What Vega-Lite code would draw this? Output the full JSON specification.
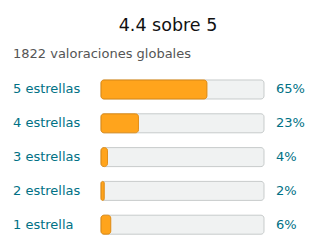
{
  "$schema": "https://vega.github.io/schema/vega-lite/v6.json",
  "width": 320,
  "height": 182,
  "padding": {"top": 70, "left": 0, "right": 0, "bottom": 0},
  "autosize": {"type": "none"},
  "background": "white",
  "config": {"view": {"stroke": null}, "font": "DejaVu Sans"},
  "title": {
    "text": "4.4 sobre 5",
    "anchor": "middle",
    "frame": "group",
    "fontSize": 17.5,
    "fontWeight": "normal",
    "color": "#111111",
    "font": "DejaVu Sans",
    "baseline": "alphabetic",
    "offset": -1,
    "dx": 8
  },
  "data": {
    "values": [
      {"stars": 5, "label": "5 estrellas", "pct": 65, "pct_text": "65%"},
      {"stars": 4, "label": "4 estrellas", "pct": 23, "pct_text": "23%"},
      {"stars": 3, "label": "3 estrellas", "pct": 4, "pct_text": "4%"},
      {"stars": 2, "label": "2 estrellas", "pct": 2, "pct_text": "2%"},
      {"stars": 1, "label": "1 estrella", "pct": 6, "pct_text": "6%"}
    ]
  },
  "layer": [
    {
      "mark": {"type": "bar", "orient": "horizontal", "size": 19, "fill": "#F0F2F2", "stroke": "#C7CBCB", "strokeWidth": 1, "cornerRadius": 3},
      "encoding": {
        "y": {"field": "stars", "type": "quantitative", "scale": {"domain": [0.1923, 5.5769], "nice": false, "zero": false, "padding": 0}, "axis": null},
        "x": {"datum": 100, "type": "quantitative", "scale": {"domain": [-61.96, 134.36], "nice": false, "zero": false, "padding": 0}, "axis": null}
      }
    },
    {
      "mark": {"type": "bar", "orient": "horizontal", "size": 19, "fill": "#FFA41C", "stroke": "#E3901A", "strokeWidth": 1, "cornerRadius": 3},
      "encoding": {
        "y": {"field": "stars", "type": "quantitative"},
        "x": {"field": "pct", "type": "quantitative"}
      }
    },
    {
      "mark": {"type": "text", "align": "left", "baseline": "middle", "fontSize": 13, "color": "#007185", "font": "DejaVu Sans"},
      "encoding": {
        "y": {"field": "stars", "type": "quantitative"},
        "x": {"datum": -54, "type": "quantitative"},
        "text": {"field": "label"}
      }
    },
    {
      "mark": {"type": "text", "align": "left", "baseline": "middle", "fontSize": 13, "color": "#007185", "font": "DejaVu Sans"},
      "encoding": {
        "y": {"field": "stars", "type": "quantitative"},
        "x": {"datum": 107.4, "type": "quantitative"},
        "text": {"field": "pct_text"}
      }
    },
    {
      "data": {"values": [{"total": 1822, "caption": "1822 valoraciones globales"}]},
      "mark": {"type": "text", "align": "left", "baseline": "alphabetic", "fontSize": 13, "color": "#555555", "font": "DejaVu Sans"},
      "encoding": {
        "x": {"datum": -54, "type": "quantitative"},
        "y": {"datum": 5.932, "type": "quantitative"},
        "text": {"field": "caption"}
      }
    }
  ]
}
